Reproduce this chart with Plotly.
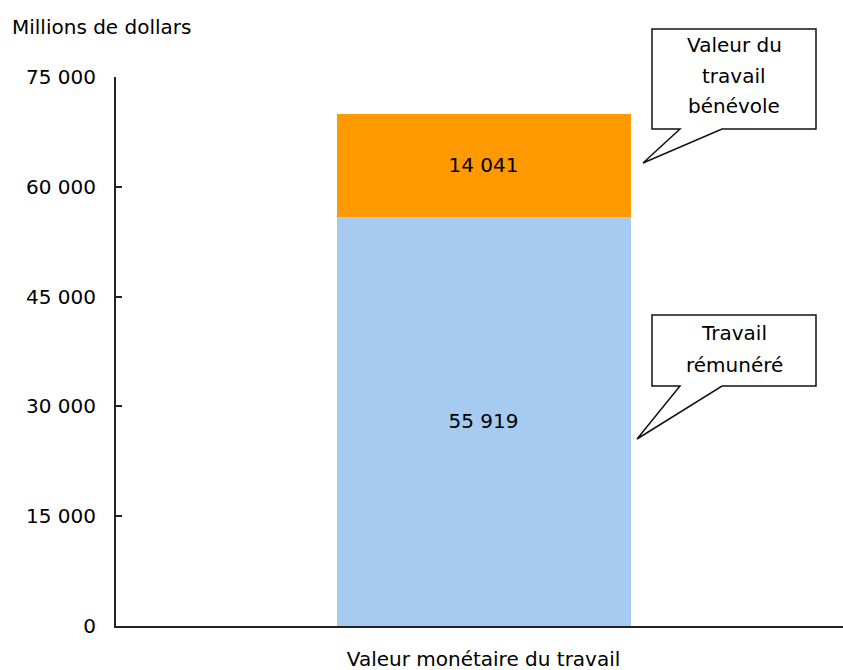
import plotly.graph_objects as go

categories = ["Valeur monétaire du travail"]
paid_work = [55919]
volunteer_work = [14041]
series_names = ["Travail rémunéré", "Valeur du travail bénévole"]
y_ticks = [0, 15000, 30000, 45000, 60000, 75000]

W, H = 843, 670
L, R, T, B = 116, 0, 77, 44
PW = W - L - R
PH = H - T - B
FONT = "DejaVu Sans, Arial, sans-serif"


def px(x):
    return (x - L) / PW


def py(y):
    return (H - B - y) / PH


fig = go.Figure()
fig.add_trace(go.Bar(
    x=categories, y=paid_work, name=series_names[0],
    marker=dict(color="#A6CAF0", line=dict(width=0)),
    width=0.4, texttemplate="%{y:,.0f}", textposition="inside",
    insidetextanchor="middle", textangle=0, constraintext="none",
    textfont=dict(family=FONT, size=20, color="#000"),
))
fig.add_trace(go.Bar(
    x=categories, y=volunteer_work, name=series_names[1],
    marker=dict(color="#FF9900", line=dict(width=0)),
    width=0.4, texttemplate="%{y:,.0f}", textposition="inside",
    insidetextanchor="middle", textangle=0, constraintext="none",
    textfont=dict(family=FONT, size=20, color="#000"),
))


def bubble(x0, y0, x1, y1, ta, tb, tx, ty):
    pts = [(x0, y0), (x1, y0), (x1, y1), (tb, y1), (tx, ty), (ta, y1), (x0, y1)]
    d = "M " + " L ".join(f"{px(a):.5f},{py(b):.5f}" for a, b in pts) + " Z"
    fig.add_shape(type="path", path=d, xref="paper", yref="paper",
                  line=dict(color="#111", width=1.5), fillcolor="white", layer="above")


bubble(652, 29, 816, 129, 680, 722, 643, 163)
bubble(652, 315, 816, 386, 680, 722, 637, 439)

for txt, yy in [("Valeur du", 45), ("travail", 76), ("bénévole", 106),
                ("Travail", 333), ("rémunéré", 365)]:
    fig.add_annotation(text=txt, x=px(734), y=py(yy), xref="paper", yref="paper",
                       showarrow=False, xanchor="center", yanchor="middle",
                       font=dict(family=FONT, size=20, color="#000"))

fig.add_annotation(text="Millions de dollars", x=px(10), y=py(27), xref="paper", yref="paper",
                   showarrow=False, xanchor="left", yanchor="middle",
                   font=dict(family=FONT, size=20, color="#000"))

fig.update_layout(
    width=W, height=H, barmode="stack", showlegend=False,
    separators=", ",
    margin=dict(l=L, r=R, t=T, b=B, pad=0),
    paper_bgcolor="white", plot_bgcolor="white",
    font=dict(family=FONT, size=20, color="#000"),
    xaxis=dict(range=[-0.5, 0.489], showline=True, linecolor="#222", linewidth=2,
               ticks="", showgrid=False, zeroline=False, ticklabelstandoff=14,
               automargin=False,
               tickfont=dict(family=FONT, size=20, color="#000")),
    yaxis=dict(range=[0, 75000], tickvals=y_ticks, tickformat=",.0f",
               showline=True, linecolor="#222", linewidth=2,
               ticks="inside", ticklen=6, tickwidth=2, tickcolor="#222",
               showgrid=False, zeroline=False, ticklabelstandoff=14,
               automargin=False,
               tickfont=dict(family=FONT, size=20, color="#000")),
)

fig.write_html("out.html", config={"displayModeBar": False},
               post_script="document.body.style.margin='0';document.body.style.overflow='hidden';")
